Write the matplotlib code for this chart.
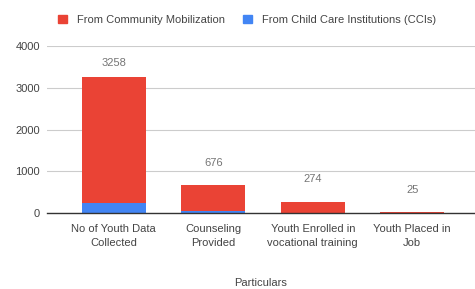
import matplotlib
matplotlib.use("Agg")
import matplotlib.pyplot as plt
from matplotlib.patches import Patch

categories = ["No of Youth Data\nCollected", "Counseling\nProvided",
              "Youth Enrolled in\nvocational training", "Youth Placed in\nJob"]
community = [3008, 636, 274, 25]
cci = [250, 40, 0, 0]
totals = [3258, 676, 274, 25]
yticks = [0, 1000, 2000, 3000, 4000]

RED = "#ea4335"
BLUE = "#4285f4"
TXT = "#444444"

plt.rcParams['font.family'] = ['Liberation Sans', 'DejaVu Sans']

fig = plt.figure(figsize=(4.75, 2.89), dpi=100)
ax = fig.add_axes([47/475, 1-213/289, 1-47/475, (213-46)/289])

x = list(range(len(categories)))
ax.bar(x, cci, width=0.64, color=BLUE, zorder=3)
ax.bar(x, community, width=0.64, bottom=cci, color=RED, zorder=3)

for i, t in enumerate(totals):
    off = 10 if i == 0 else 16
    ax.annotate(str(t), (i, t), xytext=(0, off), textcoords="offset points",
                ha="center", va="center", fontsize=8, color="#757575")

ax.set_ylim(0, 4000)
ax.set_xlim(-0.67, 3.63)
ax.set_yticks(yticks)
ax.set_yticklabels([str(v) for v in yticks], fontsize=8, color=TXT)
ax.set_xticks(x)
ax.set_xticklabels(categories, fontsize=8, color=TXT, linespacing=1.45)
ax.tick_params(axis='both', length=0)
ax.tick_params(axis='x', pad=8)
ax.tick_params(axis='y', pad=5)
ax.grid(axis='y', color="#cccccc", linewidth=0.8, zorder=0)
for s in ["top", "right", "left"]:
    ax.spines[s].set_visible(False)
ax.spines["bottom"].set_color("#333333")
ax.spines["bottom"].set_linewidth(1.0)
ax.spines["bottom"].set_zorder(4)

ax.set_xlabel("Particulars", fontsize=8, color=TXT, labelpad=22)

handles = [Patch(color=RED, label="From Community Mobilization"),
           Patch(color=BLUE, label="From Child Care Institutions (CCIs)")]
fig.legend(handles=handles, loc="center", bbox_to_anchor=(247/475, 1-20/289),
           ncol=2, frameon=False, fontsize=8, handlelength=0.8, handleheight=0.8,
           handletextpad=0.9, columnspacing=1.6, labelcolor=TXT)

fig.savefig("out.png", dpi=100)
